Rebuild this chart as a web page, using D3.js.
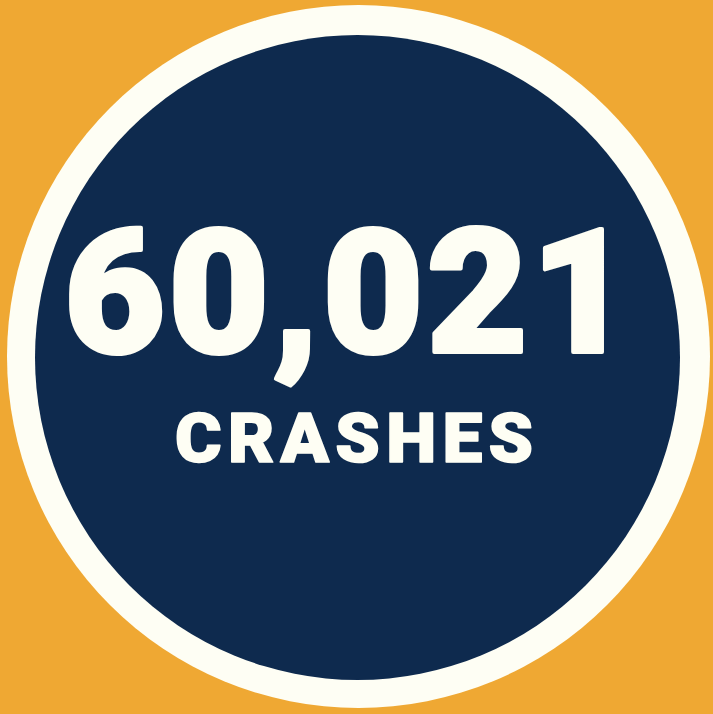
<!DOCTYPE html>
<html><head><meta charset="utf-8">
<script src="https://cdn.jsdelivr.net/npm/d3@7"></script>
<style>html,body{margin:0;padding:0;background:#EFA833;overflow:hidden}</style>
</head><body>
<script>
const values = [60021];
const labels = ["CRASHES"];

const W = 713, H = 714;
const svg = d3.select("body").append("svg").attr("width", W).attr("height", H);
svg.append("rect").attr("width", W).attr("height", H).attr("fill", "#EFA833");
svg.append("circle").attr("cx", 358.5).attr("cy", 356.5).attr("r", 351.5).attr("fill", "#FEFEF4");
svg.append("circle").attr("cx", 357.5).attr("cy", 357.5).attr("r", 322.5).attr("fill", "#0E2A4E");

const fmt = d3.format(",");
function fitText(str, x, y, size, spacing, targetW, sw) {
  const t = svg.append("text").text(str)
    .attr("x", 0).attr("y", 0)
    .attr("font-family", "Roboto, 'Open Sans', sans-serif").attr("font-weight", 900)
    .attr("font-size", size).attr("fill", "#FEFEF4")
    .attr("stroke", "#FEFEF4").attr("stroke-width", sw).attr("stroke-linejoin", "round")
    .attr("letter-spacing", spacing);
  const b = t.node().getBBox();
  const w = b.width - spacing;
  const sx = targetW / w;
  t.attr("transform", `translate(${x - b.x * sx},${y}) scale(${sx},1)`);
  return t;
}
fitText(fmt(values[0]), 64, 351.5, 172, 3, 568, 4);
fitText(labels[0], 175, 462, 68, 6, 358, 1.6);
</script>
</body></html>
